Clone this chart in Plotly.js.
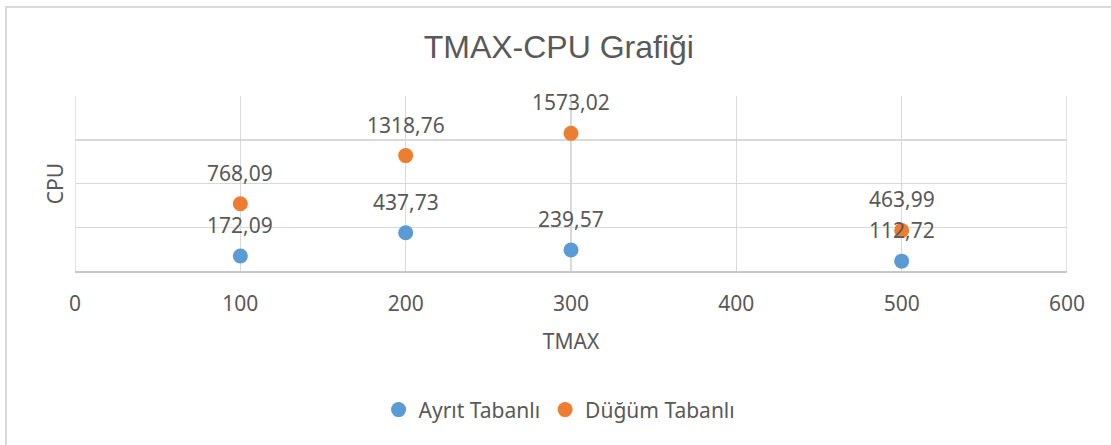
<!DOCTYPE html>
<html>
<head>
<meta charset="utf-8">
<script src="https://cdn.plot.ly/plotly-3.0.1.min.js"></script>
<style>
html,body{margin:0;padding:0;background:#fff;overflow:hidden;}
#frame{position:absolute;left:5px;top:6px;width:1200px;height:600px;border-top:2px solid #d9d9d9;border-left:2px solid #d9d9d9;}
#chart{position:absolute;left:0;top:0;width:1111px;height:445px;}
</style>
</head>
<body>
<div id="frame"></div>
<div id="chart"></div>
<script>
const tmax = [100, 200, 300, 500];
const ayritTabanli = [172.09, 437.73, 239.57, 112.72];
const dugumTabanli = [768.09, 1318.76, 1573.02, 463.99];
const seriesNames = ['Ayrıt Tabanlı', 'Düğüm Tabanlı'];
const xTicks = [0, 100, 200, 300, 400, 500, 600];

const fmt = v => v.toFixed(2).replace('.', ',');
const textColor = '#595959';
const font = 'Noto Sans, sans-serif';

const traces = [
  {x: tmax, y: ayritTabanli, name: seriesNames[0], type: 'scatter', mode: 'markers',
   marker: {color: '#5B9BD5', size: 15}, hoverinfo: 'x+y'},
  {x: tmax, y: dugumTabanli, name: seriesNames[1], type: 'scatter', mode: 'markers',
   marker: {color: '#ED7D31', size: 15}, hoverinfo: 'x+y'}
];

const annotations = [];
[ayritTabanli, dugumTabanli].forEach(arr => {
  arr.forEach((v, i) => {
    annotations.push({x: tmax[i], y: v, xref: 'x', yref: 'y', text: fmt(v), showarrow: false,
      yshift: 31, font: {family: font, size: 21, color: textColor}});
  });
});

const layout = {
  width: 1111, height: 445,
  margin: {l: 75, r: 44, t: 96, b: 174},
  paper_bgcolor: 'rgba(0,0,0,0)', plot_bgcolor: 'rgba(0,0,0,0)',
  title: {text: 'TMAX-CPU Grafiği', x: 0.503, xanchor: 'center', y: 0.895, yanchor: 'middle', yref: 'container',
    font: {family: 'Liberation Sans, Arial, sans-serif', size: 32, color: textColor}},
  xaxis: {range: [0, 600], tickvals: xTicks, ticktext: xTicks.map(String),
    showgrid: true, gridcolor: '#d9d9d9', gridwidth: 1.5, zeroline: false,
    showline: true, linecolor: '#c8c8c8', linewidth: 2, mirror: false,
    ticks: 'outside', ticklen: 13, tickcolor: 'rgba(0,0,0,0)',
    tickfont: {family: font, size: 21, color: textColor},
    title: {text: 'TMAX', standoff: 18, font: {family: font, size: 21, color: textColor}},
    automargin: false, fixedrange: true},
  yaxis: {range: [0, 2000], dtick: 500, showticklabels: false,
    showgrid: true, gridcolor: '#d9d9d9', gridwidth: 1.5, zeroline: false,
    showline: false,
    title: {text: 'CPU', standoff: 4, font: {family: font, size: 21, color: textColor}},
    automargin: false, fixedrange: true},
  shapes: [
    {type: 'line', xref: 'x', yref: 'paper', x0: 0, x1: 0, y0: 0, y1: 1, line: {color: '#d9d9d9', width: 1.5}},
    {type: 'line', xref: 'x', yref: 'paper', x0: 600, x1: 600, y0: 0, y1: 1, line: {color: '#d9d9d9', width: 1.5}}
  ],
  annotations: annotations,
  showlegend: true,
  legend: {orientation: 'h', x: 0.306, xanchor: 'left', y: -0.794, yanchor: 'middle',
    font: {family: font, size: 21, color: textColor}, itemwidth: 30, tracegroupgap: 0,
    bgcolor: 'rgba(0,0,0,0)'}
};

Plotly.newPlot('chart', traces, layout, {displayModeBar: false, staticPlot: true});
</script>
</body>
</html>
